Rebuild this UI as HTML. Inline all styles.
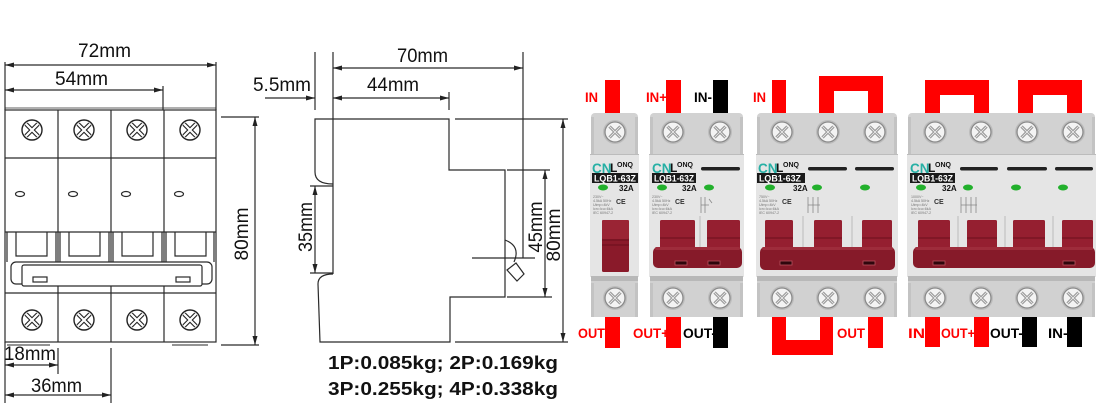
<!DOCTYPE html>
<html><head><meta charset="utf-8"><style>
html,body{margin:0;padding:0;background:#fff;}
svg{display:block;}
text{font-family:"Liberation Sans",Arial,sans-serif;}
</style></head><body>
<svg width="1105" height="409" viewBox="0 0 1105 409" xmlns="http://www.w3.org/2000/svg">
<defs>
<marker id="ar" viewBox="0 0 9 6" refX="9" refY="3" markerWidth="9" markerHeight="6" markerUnits="userSpaceOnUse" orient="auto-start-reverse"><path d="M0,0.5 L9,3 L0,5.5z" fill="#222"/></marker>
<g id="ls">
 <circle r="10" fill="#fff" stroke="#222" stroke-width="1.4"/>
 <path d="M-6,-6 L6,6 M6,-6 L-6,6" stroke="#222" stroke-width="4.4"/>
 <path d="M-6,-6 L6,6 M6,-6 L-6,6" stroke="#fff" stroke-width="2.2"/>
</g>
<g id="ps">
 <circle r="12" fill="#bcbcbc"/>
 <circle r="10" fill="#f3f3f3" stroke="#8a8a8a" stroke-width="1.3"/>
 <path d="M-5.5,-5.5 L5.5,5.5 M5.5,-5.5 L-5.5,5.5" stroke="#8c8c8c" stroke-width="3"/>
 <path d="M-5.5,-5.5 L5.5,5.5 M5.5,-5.5 L-5.5,5.5" stroke="#e4e4e4" stroke-width="1.1"/>
</g>
</defs>

<!-- ============ FRONT VIEW ============ -->
<g stroke="#2a2a2a" stroke-width="1.2" fill="none">
 <rect x="5" y="110" width="211" height="232"/>
 <line x1="5" y1="108" x2="216" y2="108" stroke-width="0.8"/>
 <line x1="58" y1="110" x2="58" y2="342"/>
 <line x1="111" y1="110" x2="111" y2="342"/>
 <line x1="164" y1="110" x2="164" y2="342"/>
 <line x1="5" y1="158" x2="216" y2="158"/>
 <line x1="5" y1="232" x2="216" y2="232"/>
 <line x1="5" y1="293" x2="216" y2="293"/>
 <path d="M7,232 V262 M56,232 V262 M16,232 V256 H47 V232"/>
 <path d="M60,232 V262 M109,232 V262 M69,232 V256 H100 V232"/>
 <path d="M113,232 V262 M162,232 V262 M122,232 V256 H153 V232"/>
 <path d="M166,232 V262 M214,232 V262 M175,232 V256 H206 V232"/>
 <rect x="11" y="262" width="201" height="22" rx="5" fill="#fff"/>
 <rect x="22" y="265" width="180" height="21" rx="2" fill="#fff"/>
 <rect x="33" y="277" width="14" height="5"/>
 <rect x="176" y="277" width="14" height="5"/>
 <ellipse cx="20" cy="194" rx="4.5" ry="2.5"/>
 <ellipse cx="73" cy="194" rx="4.5" ry="2.5"/>
 <ellipse cx="126" cy="194" rx="4.5" ry="2.5"/>
 <ellipse cx="179" cy="194" rx="4.5" ry="2.5"/>
 <path d="M7,345 H50 M172,345 H208" stroke-width="0.9"/>
 <line x1="5" y1="65" x2="216" y2="65" marker-start="url(#ar)" marker-end="url(#ar)"/>
 <line x1="5" y1="90" x2="163" y2="90" marker-start="url(#ar)" marker-end="url(#ar)"/>
 <line x1="5" y1="62" x2="5" y2="110"/>
 <line x1="216" y1="62" x2="216" y2="110"/>
 <line x1="163" y1="86" x2="163" y2="110"/>
 <line x1="255" y1="117" x2="255" y2="345" marker-start="url(#ar)" marker-end="url(#ar)"/>
 <line x1="221" y1="117" x2="259" y2="117"/>
 <line x1="221" y1="345" x2="259" y2="345"/>
 <line x1="5" y1="365" x2="58" y2="365" marker-start="url(#ar)" marker-end="url(#ar)"/>
 <line x1="58" y1="348" x2="58" y2="374"/>
 <line x1="5" y1="395" x2="111" y2="395" marker-start="url(#ar)" marker-end="url(#ar)"/>
 <line x1="111" y1="348" x2="111" y2="403"/>
 <line x1="5" y1="342" x2="5" y2="403"/>
</g>
<use href="#ls" x="32" y="130"/><use href="#ls" x="84" y="130"/><use href="#ls" x="137" y="130"/><use href="#ls" x="190" y="130"/>
<use href="#ls" x="32" y="320"/><use href="#ls" x="84" y="320"/><use href="#ls" x="137" y="320"/><use href="#ls" x="190" y="320"/>
<g fill="#111" font-size="19">
 <text x="78" y="57" textLength="53" lengthAdjust="spacingAndGlyphs">72mm</text>
 <text x="55" y="85" textLength="53" lengthAdjust="spacingAndGlyphs">54mm</text>
 <text x="4" y="360" textLength="52" lengthAdjust="spacingAndGlyphs">18mm</text>
 <text x="31" y="392" textLength="51" lengthAdjust="spacingAndGlyphs">36mm</text>
 <text transform="translate(248,234) rotate(-90)" text-anchor="middle" textLength="53" lengthAdjust="spacingAndGlyphs">80mm</text>
</g>

<!-- ============ SIDE VIEW ============ -->
<g stroke="#2a2a2a" stroke-width="1.2" fill="none">
 <line x1="315" y1="52" x2="315" y2="110"/>
 <line x1="333" y1="52" x2="333" y2="274"/>
 <line x1="265" y1="98" x2="315" y2="98" marker-end="url(#ar)"/>
 <line x1="333" y1="98" x2="449" y2="98" marker-start="url(#ar)" marker-end="url(#ar)"/>
 <line x1="333" y1="68" x2="523" y2="68" marker-start="url(#ar)" marker-end="url(#ar)"/>
 <line x1="449" y1="92" x2="449" y2="110"/>
 <line x1="523" y1="52" x2="523" y2="258"/>
 <path d="M333,184 Q315,184 315,172 L315,119 L449,119 L449,170 L505,170 L505,297 L450,297 L450,342 L320,342 L318,284 Q318,274 333,274"/>
 <line x1="310" y1="186" x2="333" y2="186"/>
 <line x1="310" y1="273" x2="333" y2="273"/>
 <line x1="315" y1="186" x2="315" y2="273" marker-start="url(#ar)" marker-end="url(#ar)"/>
 <line x1="455" y1="119" x2="568" y2="119"/>
 <line x1="507" y1="170" x2="550" y2="170"/>
 <line x1="507" y1="297" x2="552" y2="297"/>
 <line x1="455" y1="342" x2="568" y2="342"/>
 <line x1="545" y1="170" x2="545" y2="297" marker-start="url(#ar)" marker-end="url(#ar)"/>
 <line x1="563" y1="119" x2="563" y2="342" marker-start="url(#ar)" marker-end="url(#ar)"/>
 <line x1="472" y1="258" x2="535" y2="258"/>
 <path d="M505,240 Q521,246 514,262"/>
 <polygon points="507,270 516,263 524,274 517,281"/>
</g>
<g fill="#111" font-size="19">
 <text x="253" y="91" textLength="58" lengthAdjust="spacingAndGlyphs">5.5mm</text>
 <text x="367" y="91" textLength="52" lengthAdjust="spacingAndGlyphs">44mm</text>
 <text x="397" y="62" textLength="51" lengthAdjust="spacingAndGlyphs">70mm</text>
 <text transform="translate(312,227) rotate(-90)" text-anchor="middle" textLength="50" lengthAdjust="spacingAndGlyphs">35mm</text>
 <text transform="translate(542,227) rotate(-90)" text-anchor="middle" textLength="51" lengthAdjust="spacingAndGlyphs">45mm</text>
 <text transform="translate(560,235) rotate(-90)" text-anchor="middle" textLength="53" lengthAdjust="spacingAndGlyphs">80mm</text>
</g>
<g fill="#111" font-size="18" font-weight="bold">
 <text x="328" y="369" textLength="230" lengthAdjust="spacingAndGlyphs">1P:0.085kg; 2P:0.169kg</text>
 <text x="328" y="395" textLength="230" lengthAdjust="spacingAndGlyphs">3P:0.255kg; 4P:0.338kg</text>
</g>

<!-- ============ WIRES ============ -->
<g fill="#ff0000">
 <rect x="605" y="80" width="15" height="34"/>
 <rect x="605" y="316" width="15" height="32"/>
 <rect x="666" y="80" width="15" height="34"/>
 <rect x="666" y="316" width="15" height="32"/>
 <rect x="772" y="80" width="14" height="34"/>
 <path d="M819,114 L819,76 L883,76 L883,114 L868,114 L868,91 L834,91 L834,114 Z"/>
 <path d="M772,316 L786,316 L786,340 L820,340 L820,316 L833,316 L833,355 L772,355 Z"/>
 <rect x="868" y="316" width="15" height="32"/>
 <path d="M925,114 L925,80 L989,80 L989,114 L974,114 L974,95 L940,95 L940,114 Z"/>
 <path d="M1018,114 L1018,80 L1082,80 L1082,114 L1067,114 L1067,95 L1033,95 L1033,114 Z"/>
 <rect x="925" y="316" width="15" height="31"/>
 <rect x="974" y="316" width="15" height="31"/>
</g>
<g fill="#000">
 <rect x="713" y="80" width="15" height="34"/>
 <rect x="713" y="316" width="15" height="32"/>
 <rect x="1022" y="316" width="15" height="31"/>
 <rect x="1067" y="316" width="15" height="31"/>
</g>

<!-- ============ MODULE BODIES ============ -->
<g>
 <rect x="591" y="113" width="47" height="44" rx="4" fill="#d2d2d2"/>
 <rect x="590" y="154" width="49" height="123" fill="#e5e5e5"/>
 <rect x="591" y="276" width="47" height="5" fill="#b8b8b8"/>
 <rect x="591" y="281" width="47" height="36" fill="#d1d1d1"/>

 <rect x="650" y="113" width="93" height="44" rx="4" fill="#d2d2d2"/>
 <rect x="649" y="154" width="95" height="123" fill="#e5e5e5"/>
 <rect x="650" y="276" width="93" height="5" fill="#b8b8b8"/>
 <rect x="650" y="281" width="93" height="36" fill="#d1d1d1"/>

 <rect x="757" y="113" width="140" height="44" rx="4" fill="#d2d2d2"/>
 <rect x="756" y="154" width="142" height="123" fill="#e5e5e5"/>
 <rect x="757" y="276" width="140" height="5" fill="#b8b8b8"/>
 <rect x="757" y="281" width="140" height="36" fill="#d1d1d1"/>

 <rect x="908" y="113" width="187" height="44" rx="4" fill="#d2d2d2"/>
 <rect x="907" y="154" width="189" height="123" fill="#e5e5e5"/>
 <rect x="908" y="276" width="187" height="5" fill="#b8b8b8"/>
 <rect x="908" y="281" width="187" height="36" fill="#d1d1d1"/>
</g>
<!-- edge shading -->
<g fill="#c3c3c3">
 <rect x="591" y="117" width="3" height="38"/><rect x="635" y="117" width="3" height="38"/>
 <rect x="650" y="117" width="3" height="38"/><rect x="740" y="117" width="3" height="38"/>
 <rect x="757" y="117" width="3" height="38"/><rect x="894" y="117" width="3" height="38"/>
 <rect x="908" y="117" width="3" height="38"/><rect x="1092" y="117" width="3" height="38"/>
 <rect x="591" y="283" width="3" height="34"/><rect x="635" y="283" width="3" height="34"/>
 <rect x="650" y="283" width="3" height="34"/><rect x="740" y="283" width="3" height="34"/>
 <rect x="757" y="283" width="3" height="34"/><rect x="894" y="283" width="3" height="34"/>
 <rect x="908" y="283" width="3" height="34"/><rect x="1092" y="283" width="3" height="34"/>
</g>
<g stroke="#bcbcbc" stroke-width="1">
 <line x1="590" y1="154.5" x2="639" y2="154.5"/>
 <line x1="649" y1="154.5" x2="744" y2="154.5"/>
 <line x1="756" y1="154.5" x2="898" y2="154.5"/>
 <line x1="907" y1="154.5" x2="1096" y2="154.5"/>
 <line x1="700" y1="216" x2="700" y2="250"/>
 <line x1="803" y1="216" x2="803" y2="250"/>
 <line x1="852" y1="216" x2="852" y2="250"/>
 <line x1="958" y1="216" x2="958" y2="250"/>
 <line x1="1005" y1="216" x2="1005" y2="250"/>
 <line x1="1053" y1="216" x2="1053" y2="250"/>
</g>

<use href="#ps" x="615" y="132"/><use href="#ps" x="615" y="298"/>
<use href="#ps" x="673" y="132"/><use href="#ps" x="720" y="132"/>
<use href="#ps" x="673" y="298"/><use href="#ps" x="720" y="298"/>
<use href="#ps" x="782" y="132"/><use href="#ps" x="828" y="132"/><use href="#ps" x="875" y="132"/>
<use href="#ps" x="782" y="298"/><use href="#ps" x="828" y="298"/><use href="#ps" x="875" y="298"/>
<use href="#ps" x="935" y="132"/><use href="#ps" x="981" y="132"/><use href="#ps" x="1027" y="132"/><use href="#ps" x="1073" y="132"/>
<use href="#ps" x="935" y="298"/><use href="#ps" x="981" y="298"/><use href="#ps" x="1027" y="298"/><use href="#ps" x="1073" y="298"/>

<g>
 <text x="592" y="173" font-size="13.5" font-weight="bold" fill="#27b0a5">CN</text>
 <text x="610" y="172" font-size="12" font-weight="bold" fill="#111">L</text>
 <text x="617" y="167" font-size="7" font-weight="bold" fill="#111">ONQ</text>
 <rect x="592" y="173" width="46" height="10" fill="#1a1a1a"/>
 <text x="594" y="181.5" font-size="9" font-weight="bold" fill="#fff" textLength="42" lengthAdjust="spacingAndGlyphs">LQB1-63Z</text>
 <text x="619" y="191" font-size="8" font-weight="bold" fill="#111">32A</text>

 <text x="652" y="173" font-size="13.5" font-weight="bold" fill="#27b0a5">CN</text>
 <text x="670" y="172" font-size="12" font-weight="bold" fill="#111">L</text>
 <text x="677" y="167" font-size="7" font-weight="bold" fill="#111">ONQ</text>
 <rect x="652" y="173" width="44" height="10" fill="#1a1a1a"/>
 <text x="654" y="181.5" font-size="9" font-weight="bold" fill="#fff" textLength="40" lengthAdjust="spacingAndGlyphs">LQB1-63Z</text>
 <text x="682" y="191" font-size="8" font-weight="bold" fill="#111">32A</text>

 <text x="758" y="173" font-size="13.5" font-weight="bold" fill="#27b0a5">CN</text>
 <text x="776" y="172" font-size="12" font-weight="bold" fill="#111">L</text>
 <text x="783" y="167" font-size="7" font-weight="bold" fill="#111">ONQ</text>
 <rect x="757" y="173" width="48" height="10" fill="#1a1a1a"/>
 <text x="759" y="181.5" font-size="9" font-weight="bold" fill="#fff" textLength="42" lengthAdjust="spacingAndGlyphs">LQB1-63Z</text>
 <text x="793" y="191" font-size="8" font-weight="bold" fill="#111">32A</text>

 <text x="910" y="173" font-size="13.5" font-weight="bold" fill="#27b0a5">CN</text>
 <text x="928" y="172" font-size="12" font-weight="bold" fill="#111">L</text>
 <text x="935" y="167" font-size="7" font-weight="bold" fill="#111">ONQ</text>
 <rect x="910" y="173" width="45" height="10" fill="#1a1a1a"/>
 <text x="912" y="181.5" font-size="9" font-weight="bold" fill="#fff" textLength="41" lengthAdjust="spacingAndGlyphs">LQB1-63Z</text>
 <text x="942" y="191" font-size="8" font-weight="bold" fill="#111">32A</text>
</g>
<g fill="#222">
 <rect x="701" y="167" width="39" height="3.5" rx="1.7"/>
 <rect x="808" y="167" width="39" height="3.5" rx="1.7"/>
 <rect x="855" y="167" width="39" height="3.5" rx="1.7"/>
 <rect x="960" y="167" width="38" height="3.5" rx="1.7"/>
 <rect x="1007" y="167" width="40" height="3.5" rx="1.7"/>
 <rect x="1055" y="167" width="38" height="3.5" rx="1.7"/>
</g>
<g fill="#22b02c">
 <ellipse cx="603" cy="187.5" rx="5" ry="3"/>
 <ellipse cx="662" cy="187.5" rx="5" ry="3"/><ellipse cx="709" cy="187.5" rx="5" ry="3"/>
 <ellipse cx="770" cy="187.5" rx="5" ry="3"/><ellipse cx="817" cy="187.5" rx="5" ry="3"/><ellipse cx="865" cy="187.5" rx="5" ry="3"/>
 <ellipse cx="921" cy="187.5" rx="5" ry="3"/><ellipse cx="968" cy="187.5" rx="5" ry="3"/><ellipse cx="1016" cy="187.5" rx="5" ry="3"/><ellipse cx="1063" cy="187.5" rx="5" ry="3"/>
</g>
<g font-size="3.6" fill="#777">
 <text x="593" y="198">230V~</text><text x="593" y="202">4.5kA 50Hz</text><text x="593" y="206">Uimp=4kV</text><text x="593" y="210">Icn=Icu=6kA</text><text x="593" y="214">IEC 60947-2</text>
 <text x="652" y="198">230V~</text><text x="652" y="202">4.5kA 50Hz</text><text x="652" y="206">Uimp=4kV</text><text x="652" y="210">Icn=Icu=6kA</text><text x="652" y="214">IEC 60947-2</text>
 <text x="759" y="198">750V~</text><text x="759" y="202">4.5kA 50Hz</text><text x="759" y="206">Uimp=4kV</text><text x="759" y="210">Icn=Icu=6kA</text><text x="759" y="214">IEC 60947-2</text>
 <text x="911" y="198">1000V~</text><text x="911" y="202">4.5kA 50Hz</text><text x="911" y="206">Uimp=4kV</text><text x="911" y="210">Icn=Icu=6kA</text><text x="911" y="214">IEC 60947-2</text>
</g>
<g font-size="7" font-weight="bold" fill="#333">
 <text x="616" y="204">CE</text><text x="675" y="204">CE</text><text x="782" y="204">CE</text><text x="934" y="204">CE</text>
</g>
<g stroke="#888" stroke-width="0.8" fill="none">
 <path d="M701,197 v16 M705,197 v16 M709,199 l3,4 M701,205 h8"/>
 <path d="M808,197 v16 M813,197 v16 M818,197 v16 M808,205 h12"/>
 <path d="M961,197 v16 M966,197 v16 M971,197 v16 M976,197 v16 M961,205 h16"/>
</g>

<g>
 <rect x="602" y="220" width="27" height="52" rx="1.5" fill="#8a1a2a"/>
 <rect x="602" y="220" width="27" height="19" rx="1.5" fill="#9a2434"/>
 <line x1="602" y1="240" x2="629" y2="240" stroke="#6a0f1c"/>
 <line x1="602" y1="245" x2="629" y2="245" stroke="#6a0f1c"/>
</g>
<g fill="#951f30">
 <rect x="660" y="220" width="35" height="30" rx="1.5"/><rect x="707" y="220" width="33" height="30" rx="1.5"/>
 <rect x="765" y="220" width="28" height="30" rx="1.5"/><rect x="814" y="220" width="28" height="30" rx="1.5"/><rect x="862" y="220" width="30" height="30" rx="1.5"/>
 <rect x="918" y="220" width="32" height="30" rx="1.5"/><rect x="967" y="220" width="30" height="30" rx="1.5"/><rect x="1013" y="220" width="32" height="30" rx="1.5"/><rect x="1062" y="220" width="31" height="30" rx="1.5"/>
</g>
<g stroke="#6a0f1c" stroke-width="1">
 <line x1="660" y1="238" x2="695" y2="238"/><line x1="707" y1="238" x2="740" y2="238"/>
 <line x1="765" y1="238" x2="793" y2="238"/><line x1="814" y1="238" x2="842" y2="238"/><line x1="862" y1="238" x2="892" y2="238"/>
 <line x1="918" y1="238" x2="950" y2="238"/><line x1="967" y1="238" x2="997" y2="238"/><line x1="1013" y1="238" x2="1045" y2="238"/><line x1="1062" y1="238" x2="1093" y2="238"/>
</g>
<g fill="#861a29">
 <rect x="653" y="247" width="89" height="21" rx="5"/>
 <rect x="760" y="247" width="135" height="23" rx="5"/>
 <rect x="913" y="247" width="182" height="21" rx="5"/>
</g>
<g fill="#9e2c3b">
 <rect x="655" y="247" width="85" height="3" rx="1.5"/>
 <rect x="762" y="247" width="131" height="3" rx="1.5"/>
 <rect x="915" y="247" width="178" height="3" rx="1.5"/>
</g>
<g fill="#2e060c" stroke="#b8505e" stroke-width="0.8">
 <rect x="675" y="261" width="12" height="4"/><rect x="708" y="261" width="12" height="4"/>
 <rect x="780" y="261" width="12" height="4"/><rect x="863" y="261" width="12" height="4"/>
 <rect x="933" y="261" width="12" height="4"/><rect x="1063" y="261" width="12" height="4"/>
</g>

<g font-size="14" font-weight="bold">
 <text x="585" y="102" fill="#ff0000" textLength="13" lengthAdjust="spacingAndGlyphs">IN</text>
 <text x="646" y="102" fill="#ff0000" textLength="21" lengthAdjust="spacingAndGlyphs">IN+</text>
 <text x="694" y="102" fill="#000" textLength="18" lengthAdjust="spacingAndGlyphs">IN-</text>
 <text x="753" y="102" fill="#ff0000" textLength="13" lengthAdjust="spacingAndGlyphs">IN</text>
 <text x="578" y="338" fill="#ff0000" textLength="27" lengthAdjust="spacingAndGlyphs">OUT</text>
 <text x="633" y="338" fill="#ff0000" textLength="36" lengthAdjust="spacingAndGlyphs">OUT+</text>
 <text x="683" y="338" fill="#000" textLength="33" lengthAdjust="spacingAndGlyphs">OUT-</text>
 <text x="837" y="338" fill="#ff0000" textLength="28" lengthAdjust="spacingAndGlyphs">OUT</text>
 <text x="908" y="338" fill="#ff0000" textLength="27" lengthAdjust="spacingAndGlyphs">IN+</text>
 <text x="941" y="338" fill="#ff0000" textLength="34" lengthAdjust="spacingAndGlyphs">OUT+</text>
 <text x="990" y="338" fill="#000" textLength="33" lengthAdjust="spacingAndGlyphs">OUT-</text>
 <text x="1048" y="338" fill="#000" textLength="20" lengthAdjust="spacingAndGlyphs">IN-</text>
</g>
</svg>
</body></html>
